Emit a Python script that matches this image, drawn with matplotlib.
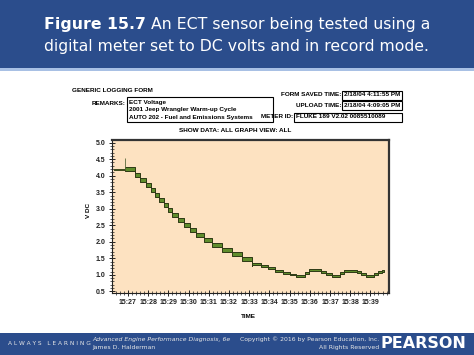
import matplotlib.pyplot as plt
from matplotlib.patches import Rectangle
from matplotlib.ticker import FixedLocator, MultipleLocator

# Datenpunkte (Minuten nach 15:27, Spannung in V) - Beginn jedes Messwerts
t_rec = [-0.64, -0.15, 0.33, 0.60, 0.87, 1.12, 1.34, 1.56, 1.78, 1.98,
         2.20, 2.47, 2.77, 3.07, 3.39, 3.76, 4.18, 4.65, 5.15, 5.65,
         6.16, 6.60, 6.95, 7.30, 7.65, 8.00, 8.30, 8.75, 8.95, 9.55,
         9.80, 10.10, 10.50, 10.70, 11.35, 11.55, 11.80, 12.20, 12.40, 12.55,
         12.67]
v_rec = [4.17, 4.19, 4.02, 3.87, 3.72, 3.57, 3.41, 3.26, 3.11, 2.96,
         2.80, 2.65, 2.50, 2.35, 2.20, 2.04, 1.89, 1.74, 1.62, 1.49,
         1.34, 1.27, 1.20, 1.13, 1.07, 1.01, 0.97, 1.05, 1.16, 1.10,
         1.03, 0.97, 1.05, 1.13, 1.08, 1.02, 0.97, 1.03, 1.08, 1.12,
         1.12]
spike_t = -0.15
spike_top = 4.55

tick_min = list(range(0, 13))
tick_labels = ['15:%02d' % (27 + m) for m in tick_min]
y_ticks = [0.5, 1.0, 1.5, 2.0, 2.5, 3.0, 3.5, 4.0, 4.5, 5.0]

W, H = 474, 355
fig = plt.figure(figsize=(W / 100, H / 100), dpi=100)
fig.patch.set_facecolor('white')

def fx(x):
    return x / W

def fy(y):
    return 1 - y / H

blue = '#2b4d8c'
# Kopf- und Fussband
fig.patches.append(Rectangle((0, fy(68)), 1, 68 / H, transform=fig.transFigure,
                             facecolor=blue, edgecolor='none'))
fig.patches.append(Rectangle((0, fy(71)), 1, 3 / H, transform=fig.transFigure,
                             facecolor='#a8c0e4', edgecolor='none'))
fig.patches.append(Rectangle((0, 0), 1, 22 / H, transform=fig.transFigure,
                             facecolor=blue, edgecolor='none'))

# Titel
tsize = 11.3
t1 = fig.text(0, fy(25), 'Figure 15.7', color='white', fontsize=tsize,
              fontweight='bold', ha='left', va='center', family='DejaVu Sans')
t2 = fig.text(0, fy(25), ' An ECT sensor being tested using a', color='white',
              fontsize=tsize, ha='left', va='center', family='DejaVu Sans')
fig.text(0.5, fy(47), 'digital meter set to DC volts and in record mode.',
         color='white', fontsize=tsize, ha='center', va='center',
         family='DejaVu Sans')
r = fig.canvas.get_renderer()
w1 = t1.get_window_extent(r).width
w2 = t2.get_window_extent(r).width
x0 = (W - w1 - w2) / 2
t1.set_x(fx(x0))
t2.set_x(fx(x0 + w1))

# Formularkopf
ff = 'Liberation Sans'
fs = 4.6
fig.text(fx(72), fy(90), 'GENERIC LOGGING FORM', fontsize=fs, fontweight='bold',
         family=ff, va='center')
fig.text(fx(125), fy(103), 'REMARKS:', fontsize=fs, fontweight='bold',
         family=ff, va='center', ha='right')

def box(x1, y1, x2, y2):
    fig.patches.append(Rectangle((fx(x1), fy(y2)), (x2 - x1) / W, (y2 - y1) / H,
                                 transform=fig.transFigure, facecolor='white',
                                 edgecolor='black', linewidth=0.8))

box(127, 97, 273, 122)
for yy, s in [(102.5, 'ECT Voltage'), (110, '2001 Jeep Wrangler Warm-up Cycle'),
              (117.5, 'AUTO 202 - Fuel and Emissions Systems')]:
    fig.text(fx(129), fy(yy), s, fontsize=fs, fontweight='bold', family=ff,
             va='center')

for (lab, lx, val, yy, bx) in [('FORM SAVED TIME:', 341, '2/18/04 4:11:55 PM', 95, 342),
                               ('UPLOAD TIME:', 341, '2/18/04 4:09:05 PM', 105, 342),
                               ('METER ID:', 293, 'FLUKE 189 V2.02 0085510089', 117, 294)]:
    fig.text(fx(lx), fy(yy), lab, fontsize=fs, fontweight='bold', family=ff,
             va='center', ha='right')
    box(bx, yy - 4.5, 402, yy + 4.5)
    fig.text(fx(bx + 2), fy(yy), val, fontsize=fs, fontweight='bold', family=ff,
             va='center')

fig.text(fx(235), fy(131), 'SHOW DATA: ALL GRAPH VIEW: ALL', fontsize=fs,
         fontweight='bold', family=ff, va='center', ha='center')

# Diagramm
ax = fig.add_axes([fx(112), fy(293), (389 - 112) / W, (293 - 140) / H])
ax.set_facecolor('#fde2c1')
# Min/Max-Band jedes Messwerts: im ersten Teil breiter, spaeter schmal
n1 = 21
for a, b, h in [(1, n1, 0.06), (n1 - 1, len(t_rec), 0.03)]:
    tt = t_rec[a:b]
    vv = v_rec[a:b]
    ax.fill_between(tt, [v - h for v in vv], [v + h for v in vv], step='post',
                    facecolor='#5f8d2c', edgecolor='#2e3a14', linewidth=0.7)
ax.step(t_rec[:2], v_rec[:1] * 2, where='post', color='#3c4a1c', linewidth=1.4)
ax.vlines(spike_t, v_rec[0], spike_top, color='#5a6a3a', linewidth=0.6)

ax.set_xlim(-0.79, 12.92)
ax.set_ylim(0.45, 5.08)
ax.xaxis.set_major_locator(FixedLocator(tick_min))
ax.set_xticklabels(tick_labels)
ax.xaxis.set_minor_locator(MultipleLocator(0.2))
ax.set_yticks(y_ticks)
ax.set_yticklabels(['%.1f' % v for v in y_ticks])
ax.yaxis.set_minor_locator(MultipleLocator(0.1))
ax.tick_params(which='major', direction='inout', length=5, width=0.7,
               labelsize=5, pad=2, colors='#222222')
ax.tick_params(which='minor', direction='inout', length=2.5, width=0.5,
               colors='#222222')
for lab in ax.get_xticklabels() + ax.get_yticklabels():
    lab.set_fontweight('bold')
    lab.set_family(ff)
for s in ['left', 'bottom']:
    ax.spines[s].set_linewidth(0.8)
    ax.spines[s].set_color('#222222')
for s in ['top', 'right']:
    ax.spines[s].set_linewidth(1.6)
    ax.spines[s].set_color('#333333')

fig.text(fx(88), fy(210), 'V DC', fontsize=fs, fontweight='bold', family=ff,
         rotation=90, va='center', ha='center')
fig.text(fx(248), fy(316), 'TIME', fontsize=fs, fontweight='bold', family=ff,
         va='center', ha='center')

# Fusszeile
fig.text(fx(8), fy(343.5), 'A L W A Y S   L E A R N I N G', color='#e6e6e6',
         fontsize=4.2, va='center', family='DejaVu Sans')
fig.text(fx(92), fy(339.5), 'Advanced Engine Performance Diagnosis, 6e',
         color='#e6e6e6', fontsize=4.4, style='italic', va='center',
         family='DejaVu Sans')
fig.text(fx(92), fy(347), 'James D. Halderman', color='#e6e6e6', fontsize=4.4,
         va='center', family='DejaVu Sans')
fig.text(fx(379), fy(339.5), 'Copyright \u00a9 2016 by Pearson Education, Inc.',
         color='#e6e6e6', fontsize=4.4, va='center', ha='right',
         family='DejaVu Sans')
fig.text(fx(379), fy(347), 'All Rights Reserved', color='#e6e6e6', fontsize=4.4,
         va='center', ha='right', family='DejaVu Sans')
fig.text(fx(466), fy(343), 'PEARSON', color='white', fontsize=11.5,
         fontweight='bold', va='center', ha='right', family='DejaVu Sans')

fig.savefig('out.png', dpi=100)
